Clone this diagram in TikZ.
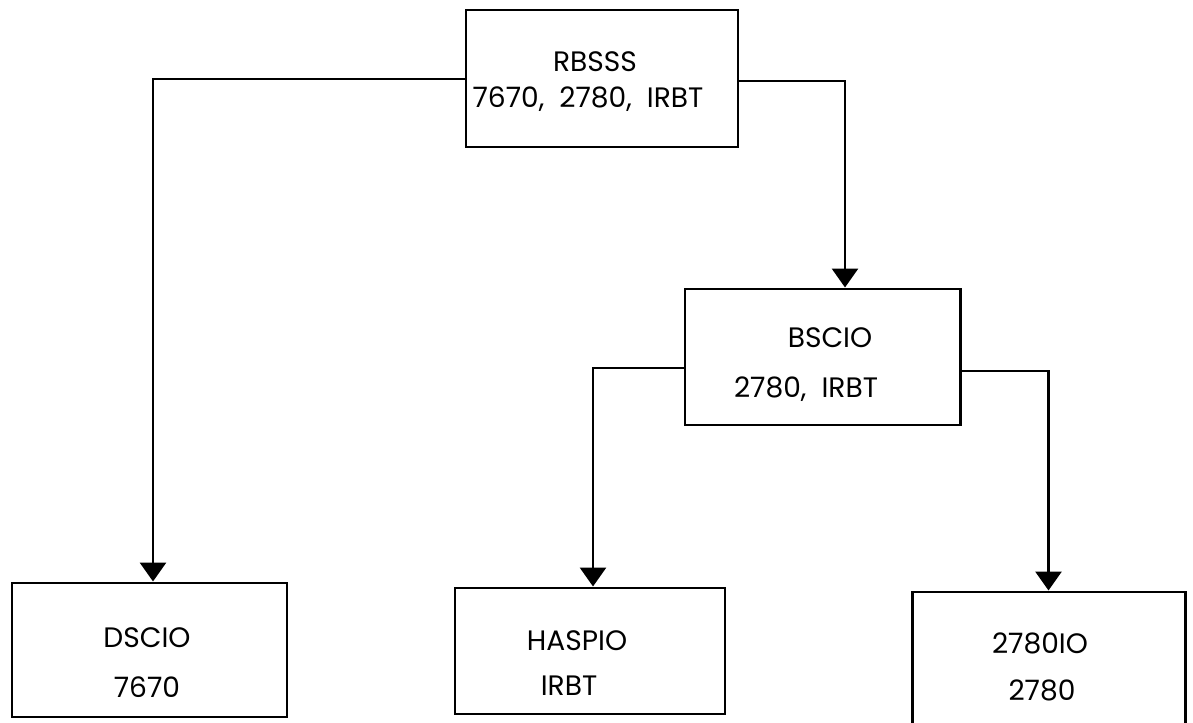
\documentclass[tikz,border=0pt]{standalone}
\usepackage{fontspec}
\setmainfont{Poppins}
\usetikzlibrary{arrows.meta, positioning, calc}

\begin{document}
\begin{tikzpicture}[
    box/.style={draw, rectangle, line width=1.7pt, inner sep=0pt},
    name text/.style={anchor=base, inner sep=0pt, font=\fontsize{16}{19}\selectfont},
    link/.style={line width=1.7pt, -{Triangle[width=0.52cm, length=0.38cm]}}
]
\useasboundingbox (0,0) rectangle (23.86,-14.46);

% Boxes
\node[box, minimum width=5.44cm, minimum height=2.74cm] (RB) at (12.04, -1.57) {};
\node[box, minimum width=5.5cm, minimum height=2.72cm] (BS) at (16.45, -7.14) {};
\node[box, minimum width=5.5cm, minimum height=2.68cm] (DS) at (2.99, -13.0) {};
\node[box, minimum width=5.4cm, minimum height=2.52cm] (HA) at (11.8, -13.02) {};
\node[box, minimum width=5.46cm, minimum height=2.9cm] (IO) at (20.97, -13.29) {};

% Texts
\node[name text] (RB1) at (11.9, -1.44) {RBSSS};
\node[name text] (RB2) at (11.76, -2.14) {7670,~~2780,~~IRBT};
\node[name text] (BS1) at (16.6, -6.94) {BSCIO};
\node[name text] (BS2) at (16.12, -7.94) {2780,~~IRBT};
\node[name text] (DS1) at (2.94, -12.94) {DSCIO};
\node[name text] (DS2) at (2.94, -13.94) {7670};
\node[name text] (HA1) at (11.54, -13.0) {HASPIO};
\node[name text] (HA2) at (11.38, -13.9) {IRBT};
\node[name text] (IO1) at (20.8, -13.06) {2780IO};
\node[name text] (IO2) at (20.84, -14.0) {2780};

% Links
\draw[link] ([yshift=-0.01cm]RB.west) -| ([xshift=0.07cm]DS.north);
\draw[link] ([yshift=-0.05cm]RB.east) -| ([xshift=0.45cm]BS.north);
\draw[link] ([yshift=-0.22cm]BS.west) -| ([xshift=0.06cm]HA.north);
\draw[link] ([yshift=-0.28cm]BS.east) -| (IO.north);

\end{tikzpicture}
\end{document}
